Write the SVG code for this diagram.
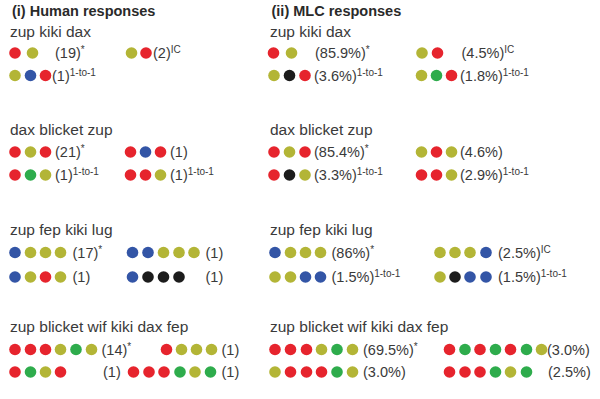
<svg xmlns="http://www.w3.org/2000/svg" width="600" height="399" viewBox="0 0 600 399">
<style>
text{font-family:"Liberation Sans",Arial,sans-serif;fill:#3a3a3a;font-size:14.5px}
.h{font-weight:bold;font-size:14.5px;fill:#2a2a2a}
.q{font-size:15.5px}
.s{font-size:10px}
circle{stroke:none}
.r{fill:#e6242d}.y{fill:#b3b536}.b{fill:#3355a6}.g{fill:#2eac4c}.k{fill:#1c1c1c}
</style>
<rect width="600" height="399" fill="#fff"/>
<g id="human">
<text class="h" x="12" y="16">(i) Human responses</text>
<g id="h1">
<text class="q" x="10" y="37">zup kiki dax</text>
<circle class="r" cx="15" cy="53" r="5.8"/><circle class="y" cx="32.5" cy="53" r="5.8"/>
<text x="55" y="58">(19)<tspan class="s" dy="-5">*</tspan></text>
<circle class="y" cx="131.5" cy="53" r="5.8"/><circle class="r" cx="146" cy="53" r="5.8"/>
<text x="153" y="58">(2)<tspan class="s" dy="-5">IC</tspan></text>
<circle class="y" cx="15" cy="75.5" r="5.8"/><circle class="b" cx="30.5" cy="75.5" r="5.8"/><circle class="r" cx="45.5" cy="75.5" r="5.8"/>
<text x="52" y="80.5">(1)<tspan class="s" dy="-5">1-to-1</tspan></text>
</g>
<g id="h2">
<text class="q" x="10" y="135">dax blicket zup</text>
<circle class="r" cx="15" cy="152" r="5.8"/><circle class="y" cx="30.5" cy="152" r="5.8"/><circle class="r" cx="45.5" cy="152" r="5.8"/>
<text x="55" y="157">(21)<tspan class="s" dy="-5">*</tspan></text>
<circle class="r" cx="130.5" cy="152" r="5.8"/><circle class="b" cx="145.5" cy="152" r="5.8"/><circle class="r" cx="160.5" cy="152" r="5.8"/>
<text x="170" y="157">(1)</text>
<circle class="r" cx="15" cy="175" r="5.8"/><circle class="g" cx="30.5" cy="175" r="5.8"/><circle class="y" cx="45.5" cy="175" r="5.8"/>
<text x="55" y="180">(1)<tspan class="s" dy="-5">1-to-1</tspan></text>
<circle class="r" cx="130.5" cy="175" r="5.8"/><circle class="r" cx="145.5" cy="175" r="5.8"/><circle class="y" cx="160.5" cy="175" r="5.8"/>
<text x="170" y="180">(1)<tspan class="s" dy="-5">1-to-1</tspan></text>
</g>
<g id="h3">
<text class="q" x="10" y="235">zup fep kiki lug</text>
<circle class="b" cx="15" cy="252.5" r="5.8"/><circle class="y" cx="30.5" cy="252.5" r="5.8"/><circle class="y" cx="45.5" cy="252.5" r="5.8"/><circle class="y" cx="60.5" cy="252.5" r="5.8"/>
<text x="72.5" y="257.5">(17)<tspan class="s" dy="-5">*</tspan></text>
<circle class="b" cx="132.5" cy="252.5" r="5.8"/><circle class="b" cx="148" cy="252.5" r="5.8"/><circle class="y" cx="163.5" cy="252.5" r="5.8"/><circle class="y" cx="179" cy="252.5" r="5.8"/><circle class="y" cx="194" cy="252.5" r="5.8"/>
<text x="205.5" y="257.5">(1)</text>
<circle class="b" cx="15" cy="277" r="5.8"/><circle class="y" cx="30.5" cy="277" r="5.8"/><circle class="r" cx="45.5" cy="277" r="5.8"/><circle class="y" cx="60.5" cy="277" r="5.8"/>
<text x="72.5" y="282">(1)</text>
<circle class="b" cx="132.5" cy="277" r="5.8"/><circle class="k" cx="148" cy="277" r="5.8"/><circle class="k" cx="163.5" cy="277" r="5.8"/><circle class="k" cx="179" cy="277" r="5.8"/>
<text x="205.5" y="282">(1)</text>
</g>
<g id="h4">
<text class="q" x="10" y="331.5">zup blicket wif kiki dax fep</text>
<circle class="r" cx="15" cy="349.5" r="5.8"/><circle class="r" cx="30.5" cy="349.5" r="5.8"/><circle class="r" cx="45.5" cy="349.5" r="5.8"/><circle class="y" cx="60.5" cy="349.5" r="5.8"/><circle class="g" cx="76" cy="349.5" r="5.8"/><circle class="y" cx="91.5" cy="349.5" r="5.8"/>
<text x="101.5" y="354.5">(14)<tspan class="s" dy="-5">*</tspan></text>
<circle class="r" cx="166.5" cy="349.5" r="5.8"/><circle class="y" cx="181.5" cy="349.5" r="5.8"/><circle class="y" cx="196.5" cy="349.5" r="5.8"/><circle class="y" cx="211.5" cy="349.5" r="5.8"/>
<text x="221.5" y="354.5">(1)</text>
<circle class="r" cx="15" cy="372" r="5.8"/><circle class="g" cx="30.5" cy="372" r="5.8"/><circle class="y" cx="45.5" cy="372" r="5.8"/><circle class="r" cx="60.5" cy="372" r="5.8"/>
<text x="103" y="377">(1)</text>
<circle class="r" cx="133.5" cy="372" r="5.8"/><circle class="r" cx="149" cy="372" r="5.8"/><circle class="r" cx="164" cy="372" r="5.8"/><circle class="g" cx="180" cy="372" r="5.8"/><circle class="y" cx="195" cy="372" r="5.8"/><circle class="g" cx="210.5" cy="372" r="5.8"/>
<text x="221.5" y="377">(1)</text>
</g>
</g>
<g id="mlc">
<text class="h" x="271.5" y="16">(ii) MLC responses</text>
<g id="m1">
<text class="q" x="270" y="37">zup kiki dax</text>
<circle class="r" cx="273.5" cy="53" r="5.8"/><circle class="y" cx="291.5" cy="53" r="5.8"/>
<text x="315" y="58">(85.9%)<tspan class="s" dy="-5">*</tspan></text>
<circle class="y" cx="422" cy="53" r="5.8"/><circle class="r" cx="437.5" cy="53" r="5.8"/>
<text x="461.5" y="58">(4.5%)<tspan class="s" dy="-5">IC</tspan></text>
<circle class="y" cx="274" cy="75.5" r="5.8"/><circle class="k" cx="289.5" cy="75.5" r="5.8"/><circle class="r" cx="305" cy="75.5" r="5.8"/>
<text x="314" y="80.5">(3.6%)<tspan class="s" dy="-5">1-to-1</tspan></text>
<circle class="y" cx="421.5" cy="75.5" r="5.8"/><circle class="g" cx="436.5" cy="75.5" r="5.8"/><circle class="r" cx="451.5" cy="75.5" r="5.8"/>
<text x="460" y="80.5">(1.8%)<tspan class="s" dy="-5">1-to-1</tspan></text>
</g>
<g id="m2">
<text class="q" x="270" y="135">dax blicket zup</text>
<circle class="r" cx="274" cy="152" r="5.8"/><circle class="y" cx="289.5" cy="152" r="5.8"/><circle class="r" cx="305" cy="152" r="5.8"/>
<text x="314" y="157">(85.4%)<tspan class="s" dy="-5">*</tspan></text>
<circle class="y" cx="421.5" cy="152" r="5.8"/><circle class="r" cx="436.5" cy="152" r="5.8"/><circle class="y" cx="451.5" cy="152" r="5.8"/>
<text x="460" y="157">(4.6%)</text>
<circle class="r" cx="274" cy="175" r="5.8"/><circle class="k" cx="289.5" cy="175" r="5.8"/><circle class="y" cx="305" cy="175" r="5.8"/>
<text x="314" y="180">(3.3%)<tspan class="s" dy="-5">1-to-1</tspan></text>
<circle class="r" cx="421.5" cy="175" r="5.8"/><circle class="r" cx="436.5" cy="175" r="5.8"/><circle class="y" cx="451.5" cy="175" r="5.8"/>
<text x="460" y="180">(2.9%)<tspan class="s" dy="-5">1-to-1</tspan></text>
</g>
<g id="m3">
<text class="q" x="270" y="235">zup fep kiki lug</text>
<circle class="b" cx="275" cy="252.5" r="5.8"/><circle class="y" cx="290.5" cy="252.5" r="5.8"/><circle class="y" cx="305.5" cy="252.5" r="5.8"/><circle class="y" cx="320.5" cy="252.5" r="5.8"/>
<text x="331.5" y="257.5">(86%)<tspan class="s" dy="-5">*</tspan></text>
<circle class="y" cx="440" cy="252.5" r="5.8"/><circle class="y" cx="455" cy="252.5" r="5.8"/><circle class="y" cx="470" cy="252.5" r="5.8"/><circle class="b" cx="486" cy="252.5" r="5.8"/>
<text x="498" y="257.5">(2.5%)<tspan class="s" dy="-5">IC</tspan></text>
<circle class="y" cx="275" cy="277" r="5.8"/><circle class="y" cx="290.5" cy="277" r="5.8"/><circle class="b" cx="305.5" cy="277" r="5.8"/><circle class="b" cx="320.5" cy="277" r="5.8"/>
<text x="331.5" y="282">(1.5%)<tspan class="s" dy="-5">1-to-1</tspan></text>
<circle class="y" cx="440" cy="277" r="5.8"/><circle class="k" cx="455" cy="277" r="5.8"/><circle class="b" cx="470" cy="277" r="5.8"/><circle class="b" cx="486" cy="277" r="5.8"/>
<text x="498" y="282">(1.5%)<tspan class="s" dy="-5">1-to-1</tspan></text>
</g>
<g id="m4">
<text class="q" x="270" y="331.5">zup blicket wif kiki dax fep</text>
<circle class="r" cx="275" cy="349.5" r="5.8"/><circle class="r" cx="290.5" cy="349.5" r="5.8"/><circle class="r" cx="306.5" cy="349.5" r="5.8"/><circle class="y" cx="321.5" cy="349.5" r="5.8"/><circle class="g" cx="337" cy="349.5" r="5.8"/><circle class="y" cx="352.5" cy="349.5" r="5.8"/>
<text x="363" y="354.5">(69.5%)<tspan class="s" dy="-5">*</tspan></text>
<circle class="r" cx="449.5" cy="349.5" r="5.8"/><circle class="g" cx="465" cy="349.5" r="5.8"/><circle class="r" cx="480" cy="349.5" r="5.8"/><circle class="g" cx="495.5" cy="349.5" r="5.8"/><circle class="r" cx="510.5" cy="349.5" r="5.8"/><circle class="g" cx="526.5" cy="349.5" r="5.8"/><circle class="y" cx="541.5" cy="349.5" r="5.8"/>
<text x="547" y="354.5">(3.0%)</text>
<circle class="y" cx="275" cy="372" r="5.8"/><circle class="r" cx="290.5" cy="372" r="5.8"/><circle class="r" cx="306.5" cy="372" r="5.8"/><circle class="r" cx="321.5" cy="372" r="5.8"/><circle class="g" cx="337" cy="372" r="5.8"/><circle class="y" cx="352.5" cy="372" r="5.8"/>
<text x="363" y="377">(3.0%)</text>
<circle class="r" cx="449.5" cy="372" r="5.8"/><circle class="r" cx="465" cy="372" r="5.8"/><circle class="r" cx="480" cy="372" r="5.8"/><circle class="g" cx="495.5" cy="372" r="5.8"/><circle class="y" cx="510.5" cy="372" r="5.8"/><circle class="g" cx="526.5" cy="372" r="5.8"/>
<text x="548" y="377">(2.5%)</text>
</g>
</g>
</svg>
